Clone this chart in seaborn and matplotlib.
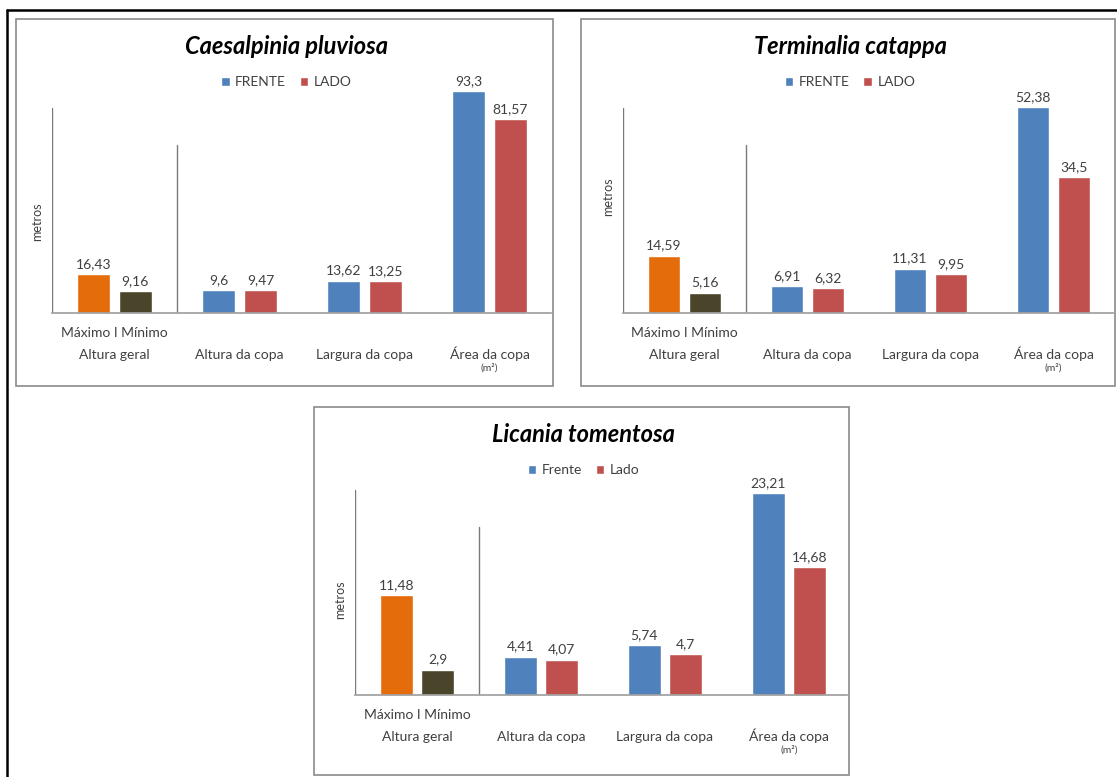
import matplotlib
matplotlib.use("Agg")
import matplotlib.pyplot as plt
from matplotlib.patches import Rectangle
from matplotlib.lines import Line2D
import pandas as pd
import seaborn as sns

# dados
grupos = ["Altura geral", "Altura da copa", "Largura da copa", "Área da copa"]
series_copa = ["FRENTE", "LADO"]
series_copa_c = ["Frente", "Lado"]
series_altura = ["Máximo", "Mínimo"]

caes_frente = [9.6, 13.62, 93.3]
caes_lado = [9.47, 13.25, 81.57]
caes_altura = [16.43, 9.16]

term_frente = [6.91, 11.31, 52.38]
term_lado = [6.32, 9.95, 34.5]
term_altura = [14.59, 5.16]

lic_frente = [4.41, 5.74, 23.21]
lic_lado = [4.07, 4.7, 14.68]
lic_altura = [11.48, 2.9]

titulos = ["Caesalpinia pluviosa", "Terminalia catappa", "Licania tomentosa"]

W, H = 1117, 777
cor_azul, cor_verm = "#4F81BD", "#C0504D"
cor_lar, cor_esc = "#E46C0A", "#4A452A"
cinza_txt = "#404040"

sns.set_theme(style="white")
plt.rcParams["font.family"] = ["Lato", "DejaVu Sans"]

fig = plt.figure(figsize=(W / 100, H / 100), dpi=100)


def fx(x):
    return x / W


def fy(y):
    return 1 - y / H


def painel(box, spine_x, base_y, passo, escala, frente, lado, altura, nomes, titulo, metros_y):
    x0, y0, x1, y1 = box
    topo = base_y - 250
    ax = fig.add_axes([fx(spine_x), fy(base_y), (x1 - 2 - spine_x) / W, (base_y - topo) / H])
    ax.set_facecolor("none")

    copa = pd.DataFrame({
        "grupo": grupos[1:] * 2,
        "serie": [nomes[0]] * 3 + [nomes[1]] * 3,
        "valor": frente + lado,
    })
    geral = pd.DataFrame({"grupo": [grupos[0]] * 2, "serie": series_altura, "valor": altura})

    sns.barplot(data=copa, x="grupo", y="valor", hue="serie", order=grupos, hue_order=nomes,
                palette=[cor_azul, cor_verm], saturation=1, width=0.67, gap=0.21,
                legend=False, ax=ax)
    sns.barplot(data=geral, x="grupo", y="valor", hue="serie", order=grupos, hue_order=series_altura,
                palette=[cor_lar, cor_esc], saturation=1, width=0.67, gap=0.21,
                legend=False, ax=ax)

    for c in ax.containers:
        ax.bar_label(c, labels=[f"{v:g}".replace(".", ",") for v in c.datavalues],
                     padding=3, fontsize=10, color=cinza_txt)

    ax.set_xlim(-0.5, -0.5 + (x1 - 2 - spine_x) / passo)
    ax.set_ylim(0, (base_y - topo) / escala)
    ax.set_yticks([])
    ax.set_xlabel("")
    ax.set_ylabel("")
    sns.despine(ax=ax, left=True)
    ax.spines["bottom"].set_color("#a0a0a0")
    ax.tick_params(axis="x", length=0, pad=26, labelsize=10, labelcolor=cinza_txt)
    ax.get_xticklabels()[3].set_y(0.012)

    ax.axvline(-0.5, ymin=0, ymax=205 / 250, color="#7a7a7a", lw=1)
    ax.axvline(0.5, ymin=0, ymax=168 / 250, color="#7a7a7a", lw=1)

    ax.annotate("Máximo I Mínimo", xy=(0, 0), xytext=(0, -20), textcoords="offset pixels",
                ha="center", va="center", fontsize=10, color=cinza_txt, annotation_clip=False)
    ax.annotate("(m²)", xy=(3, 0), xytext=(0, -55), textcoords="offset pixels",
                ha="center", va="center", fontsize=7.5, color=cinza_txt, annotation_clip=False)

    cx = (x0 + x1) / 2
    fig.text(fx(cx + 2), fy(y0 + 28), titulo, ha="center", va="center", fontsize=17,
             fontweight="bold", fontstyle="italic", color="black")
    fig.text(fx(spine_x - 15), fy(metros_y), "metros", rotation=90, ha="center", va="center",
             fontsize=9, color=cinza_txt)

    handles = ax.containers[:2]
    ax.legend(handles, nomes, loc="center", bbox_to_anchor=(fx(cx + 2), fy(y0 + 63)),
              bbox_transform=fig.transFigure, ncol=2, frameon=False, fontsize=10,
              handlelength=0.6, handleheight=0.6, handletextpad=0.4, columnspacing=1.0,
              labelcolor=cinza_txt)

    fig.add_artist(Rectangle((fx(x0), fy(y1)), (x1 - x0) / W, (y1 - y0) / H, transform=fig.transFigure,
                             fill=False, edgecolor="#8a8a8a", lw=1.2))
    return ax


painel((16, 19, 553, 386), 52, 313, 125, 2.38, caes_frente, caes_lado, caes_altura,
       series_copa, titulos[0], 222)
painel((581, 19, 1115, 386), 623, 313, 123, 3.93, term_frente, term_lado, term_altura,
       series_copa, titulos[1], 197)
painel((314, 407, 849, 775), 355, 695, 124, 8.7, lic_frente, lic_lado, lic_altura,
       series_copa_c, titulos[2], 600)

# moldura externa (so topo e esquerda visiveis)
fig.add_artist(Line2D([fx(7), 1], [fy(10), fy(10)], transform=fig.transFigure, color="black", lw=1.8))
fig.add_artist(Line2D([fx(7), fx(7)], [fy(10), 0], transform=fig.transFigure, color="black", lw=1.8))

fig.savefig("out.png", dpi=100)
